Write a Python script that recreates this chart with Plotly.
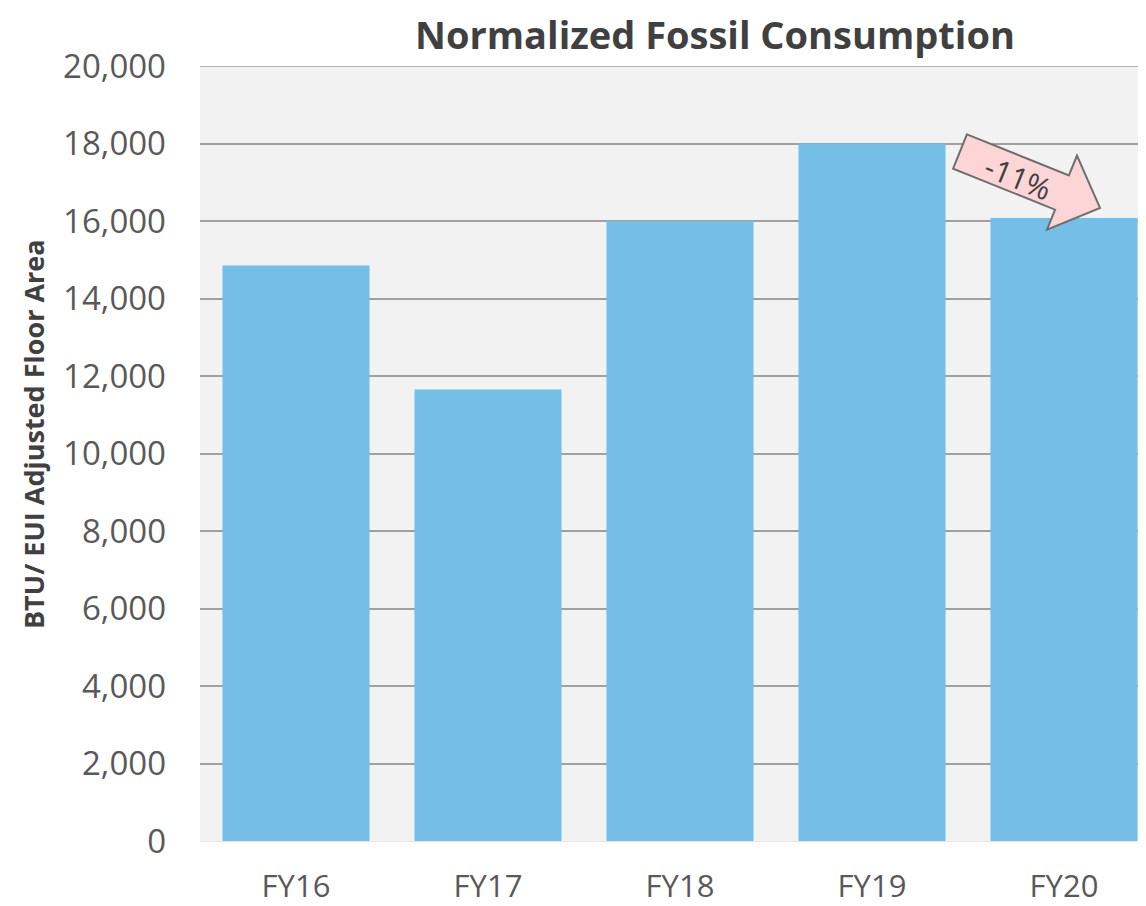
import math
import plotly.graph_objects as go

years = ["FY16", "FY17", "FY18", "FY19", "FY20"]
btu = [14850, 11650, 16000, 18000, 16080]
y_ticks = list(range(0, 20001, 2000))
y_ticktext = [f"{v:,}" for v in y_ticks]

OFF = 8  # default body margin of the html page
W, H = 1146 - OFF, 906 - OFF
L, R, T = 200 - OFF, 0, 66 - OFF
plot_h = 777
B = H - T - plot_h
plot_w = W - L - R
slot = 192  # px per category
x_range = [-0.5, -0.5 + plot_w / slot]
y_range = [0, 20000]


# helpers work in screen pixels (page coordinates)
def px_of(i):
    return OFF + L + (i - x_range[0]) * slot


def py_of(v):
    return OFF + T + (1 - v / y_range[1]) * plot_h


def to_paper(px, py):
    return (px - OFF - L) / plot_w, 1 - (py - OFF - T) / plot_h


fig = go.Figure()
fig.add_trace(go.Bar(x=years, y=btu, marker_color="#73BFE7", marker_line_width=0,
                     hoverinfo="x+y"))

# top gridline (plotly skips the one on the edge)
fig.add_shape(type="line", xref="paper", x0=0, x1=1, yref="y", y0=y_ticks[-1], y1=y_ticks[-1],
              line=dict(color="#A0A0A0", width=1.5), layer="below")

# block arrow from FY19 down to FY20
ang = math.radians(22)
ox = px_of(3) + 88
oy = py_of(btu[3]) + 8
pts = [(0, -18.5), (110, -18.5), (110, -40), (151, 0), (110, 40), (110, 18.5), (0, 18.5)]
path = ""
for k, (u, v) in enumerate(pts):
    px = ox + u * math.cos(ang) - v * math.sin(ang)
    py = oy + u * math.sin(ang) + v * math.cos(ang)
    xp, yp = to_paper(px, py)
    path += ("M" if k == 0 else "L") + f"{xp:.5f},{yp:.5f} "
path += "Z"
fig.add_shape(type="path", path=path, xref="paper", yref="paper",
              fillcolor="#FCD6D6", line=dict(color="#6E6E6E", width=2), layer="above")

pct = (btu[4] / btu[3] - 1) * 100
tx, ty = to_paper(ox + 64 * math.cos(ang) - 2 * math.sin(ang),
                  oy + 64 * math.sin(ang) + 2 * math.cos(ang))
fig.add_annotation(x=tx, y=ty, xref="paper", yref="paper", text=f"{pct:.0f}%",
                   xanchor="center", yanchor="middle",
                   showarrow=False, textangle=22,
                   font=dict(family="Open Sans", size=30, color="#404040"))

# y axis title
yx, yy = to_paper(33, 435)
fig.add_annotation(x=yx, y=yy, xref="paper", yref="paper", xanchor="center", yanchor="middle",
                   text="<b>BTU/ EUI Adjusted Floor Area</b>", showarrow=False, textangle=-90,
                   font=dict(family="Open Sans", size=27, color="#404040"))

fig.update_layout(
    width=W, height=H,
    margin=dict(l=L, r=R, t=T, b=B),
    paper_bgcolor="white",
    plot_bgcolor="#F2F2F2",
    bargap=0.234,
    showlegend=False,
    title=dict(text="<b>Normalized Fossil Consumption</b>", x=(715 - OFF) / W, xanchor="center",
               y=1 - (36 - OFF) / H, yanchor="middle", xref="container", yref="container",
               font=dict(family="Open Sans", size=38, color="#404040")),
)
fig.update_xaxes(range=x_range, showgrid=False, showline=False, ticks="",
                 ticklabelstandoff=24,
                 tickfont=dict(family="Open Sans", size=31, color="#595959"))
fig.update_yaxes(range=y_range, tickvals=y_ticks, ticktext=y_ticktext,
                 showgrid=True, gridcolor="#A0A0A0", gridwidth=1.5,
                 zeroline=True, zerolinecolor="#E6E6E6", zerolinewidth=1,
                 showline=False, ticks="", ticklabelstandoff=33,
                 tickfont=dict(family="Open Sans", size=33, color="#595959"))

fig.write_html("out.html")
